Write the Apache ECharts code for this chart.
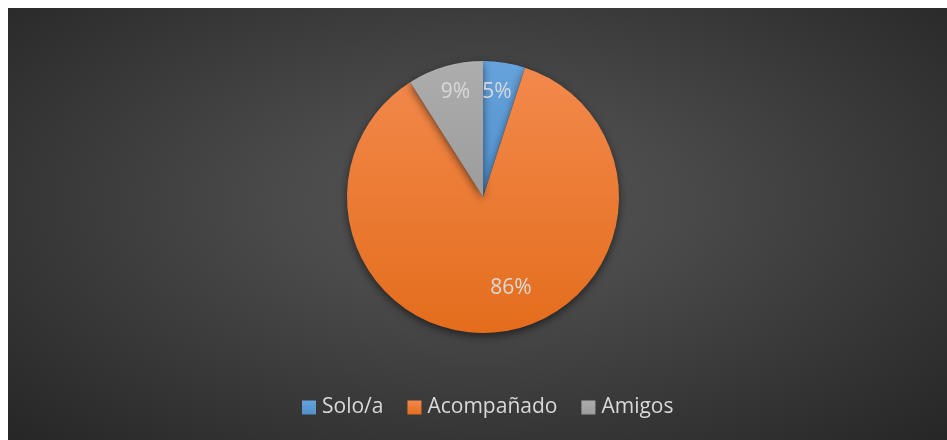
<!DOCTYPE html>
<html>
<head>
<meta charset="utf-8">
<script src="https://cdn.jsdelivr.net/npm/echarts@6/dist/echarts.min.js"></script>
<style>
html,body{margin:0;padding:0;background:#ffffff;width:947px;height:440px;overflow:hidden;}
#chart{position:absolute;left:8px;top:8px;width:939px;height:432px;
background:radial-gradient(ellipse at 50% 45%, #555555 0%, #4a4a4a 30%, #262626 100%);}
</style>
</head>
<body>
<div id="chart"></div>
<script>
var categories = ['Solo/a', 'Acompañado', 'Amigos'];
var values = [5, 86, 9];
var colorsTop = ['#66a3dc', '#f2894c', '#adadad'];
var colorsBottom = ['#5190cc', '#e46d1c', '#9c9c9c'];

var CX = 475, CY = 189, R = 136;
// label placement: [distance as fraction of radius, angle offset in degrees from slice middle]
var labelPlace = [[0.78, -1.4], [0.70, -9.8], [0.80, 1.5]];

var total = values.reduce(function(a,b){return a+b;}, 0);
var mids = [];
var acc = 0;
for (var i = 0; i < values.length; i++) {
  mids.push((acc + values[i] / 2) / total * 360);
  acc += values[i];
}

var data = categories.map(function(name, i){
  return {
    name: name,
    value: values[i],
    itemStyle: {
      color: {type:'linear', x:0, y:0, x2:0, y2:1, colorStops:[
        {offset:0, color: colorsTop[i]}, {offset:1, color: colorsBottom[i]}]}
    }
  };
});

var chart = echarts.init(document.getElementById('chart'), null, {renderer:'canvas'});
chart.setOption({
  backgroundColor: 'transparent',
  animation: false,
  color: ['#5B9BD5', '#ED7D31', '#A5A5A5'],
  legend: {
    data: categories,
    left: 294,
    top: 389,
    padding: 0,
    itemWidth: 14,
    itemHeight: 14,
    itemGap: 24,
    icon: 'rect',
    textStyle: {color:'#d9d9d9', fontSize:21, fontFamily:'Open Sans', padding:[0,0,0,1]}
  },
  series: [{
    type: 'pie',
    center: [CX, CY],
    radius: [0, R],
    startAngle: 90,
    clockwise: true,
    data: data,
    itemStyle: {
      shadowBlur: 8,
      shadowColor: 'rgba(0,0,0,0.55)',
      shadowOffsetY: 3
    },
    label: {
      show: true,
      position: 'inside',
      formatter: function(p){ return Math.round(p.percent) + '%'; },
      color: '#d9d9d9',
      fontSize: 21,
      fontFamily: 'Open Sans'
    },
    labelLine: {show:false},
    labelLayout: function(params){
      var i = params.dataIndex;
      var a = (mids[i] + labelPlace[i][1]) * Math.PI / 180;
      var d = labelPlace[i][0] * R;
      return {
        x: CX + d * Math.sin(a),
        y: CY - d * Math.cos(a),
        align: 'center',
        verticalAlign: 'middle'
      };
    },
    emphasis: {disabled: true}
  }]
});
</script>
</body>
</html>
